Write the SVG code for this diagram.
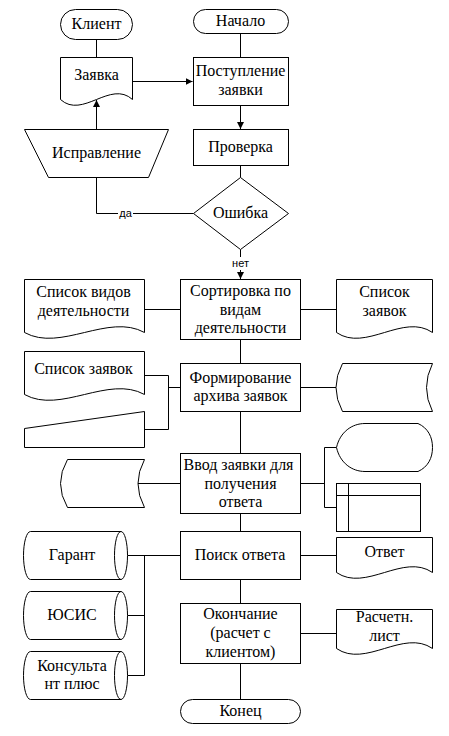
<svg xmlns="http://www.w3.org/2000/svg" width="449" height="736" viewBox="0 0 449 736">
<style>
.s{fill:#fff;stroke:#000;stroke-width:1}
.c{fill:none;stroke:#000;stroke-width:1}
text{font-size:16px;fill:#000;text-anchor:middle}
text.l{font-size:11px}
</style>
<defs>
<marker id="ah" markerUnits="userSpaceOnUse" markerWidth="8" markerHeight="8" refX="7" refY="3.5" orient="auto">
<path d="M0,0 L7,3.5 L0,7 z" fill="#000"/>
</marker>
</defs>
<rect width="449" height="736" fill="#fff"/>
<g font-family="Liberation Serif, Times New Roman, serif">
<g id="connectors">
<path class="c" d="M96.5,39.5 V57.5"/>
<path class="c" d="M240.5,33.5 V57.5"/>
<path class="c" d="M132.5,81.5 H192.5" marker-end="url(#ah)"/>
<path class="c" d="M240.5,105.5 V129" marker-end="url(#ah)"/>
<path class="c" d="M240.5,165.5 V177.5"/>
<path class="c" d="M96.5,129.5 V100" marker-end="url(#ah)"/>
<path class="c" d="M96.5,177.5 V213.5 H193.5"/>
<path class="c" d="M240.5,249.5 V279" marker-end="url(#ah)"/>
<path class="c" d="M144.5,309.5 H180.5 M300.5,309.5 H336.5"/>
<path class="c" d="M240.5,339.5 V363.5"/>
<path class="c" d="M144.5,375.5 H168.5 V429.5 H144.5 M168.5,387.5 H180.5 M300.5,387.5 H336.5"/>
<path class="c" d="M240.5,411.5 V453.5"/>
<path class="c" d="M138,483.5 H180.5 M300.5,483.5 H324.5 M336.5,447.5 H324.5 V507.5 H336.5"/>
<path class="c" d="M240.5,513.5 V531.5"/>
<path class="c" d="M127.5,555.5 H180.5 M144.5,555.5 V675.5 M127.5,615.5 H144.5 M127.5,675.5 H144.5 M300.5,555.5 H336.5"/>
<path class="c" d="M240.5,579.5 V603.5"/>
<path class="c" d="M300.5,633.5 H336.5"/>
<path class="c" d="M240.5,663.5 V699.5"/>
<rect x="118" y="207" width="15" height="13" fill="#fff"/>
<text class="l" x="125.5" y="216.5" font-family="Liberation Sans, Arial, sans-serif">да</text>
<rect x="230" y="257" width="21" height="13" fill="#fff"/>
<text class="l" x="240.5" y="266.5" font-family="Liberation Sans, Arial, sans-serif">нет</text>
</g>
<g id="klient">
<rect class="s" x="60.5" y="9.5" width="72" height="30" rx="15"/>
<text x="96.5" y="29">Клиент</text>
</g>
<g id="nachalo">
<rect class="s" x="193.5" y="9.5" width="95" height="24" rx="12"/>
<text x="240.5" y="26">Начало</text>
</g>
<g id="zayavka">
<path class="s" d="M60.5,57.5 H132.5 V99.5 C110.5,79.5 82.5,119.5 60.5,99.5 Z"/>
<text x="96.5" y="80">Заявка</text>
</g>
<g id="postuplenie">
<rect class="s" x="193.5" y="57.5" width="95" height="48"/>
<text x="240.5" y="76">Поступление</text>
<text x="240.5" y="94.5">заявки</text>
</g>
<g id="proverka">
<rect class="s" x="193.5" y="129.5" width="95" height="36"/>
<text x="240.5" y="152">Проверка</text>
</g>
<g id="ispravlenie">
<polygon class="s" points="24.5,129.5 168.5,129.5 148.5,177.5 48.5,177.5"/>
<text x="96.5" y="158">Исправление</text>
</g>
<g id="oshibka">
<polygon class="s" points="240.5,177.5 288.5,213.5 240.5,249.5 193.5,213.5"/>
<text x="240.5" y="218">Ошибка</text>
</g>
<g id="sortirovka">
<rect class="s" x="180.5" y="279.5" width="120" height="60"/>
<text x="240.5" y="296">Сортировка по</text>
<text x="240.5" y="314.5">видам</text>
<text x="240.5" y="333">деятельности</text>
</g>
<g id="spisok-vidov">
<path class="s" d="M24.5,279.5 H144.5 V332.5 C108.5,312.5 60.5,352.5 24.5,332.5 Z"/>
<text x="83.5" y="297">Список видов</text>
<text x="83.5" y="316">деятельности</text>
</g>
<g id="spisok-zayavok-1">
<path class="s" d="M336.5,279.5 H432.5 V332.5 C403.5,312.5 365.5,352.5 336.5,332.5 Z"/>
<text x="384.5" y="297">Список</text>
<text x="384.5" y="316">заявок</text>
</g>
<g id="formirovanie">
<rect class="s" x="180.5" y="363.5" width="120" height="48"/>
<text x="240.5" y="382.5">Формирование</text>
<text x="240.5" y="401">архива заявок</text>
</g>
<g id="spisok-zayavok-2">
<path class="s" d="M24.5,351.5 H144.5 V394.5 C108.5,374.5 60.5,414.5 24.5,394.5 Z"/>
<text x="83.5" y="374">Список заявок</text>
</g>
<g id="manual-input">
<polygon class="s" points="24.5,428.5 144.5,411.5 144.5,447.5 24.5,447.5"/>
</g>
<g id="stored-data-1">
<path class="s" d="M342.5,363.5 H432.5 Q420.5,387.5 432.5,411.5 H342.5 Q329.5,387.5 342.5,363.5 Z"/>
</g>
<g id="vvod">
<rect class="s" x="180.5" y="453.5" width="120" height="60"/>
<text x="238.5" y="470">Ввод заявки для</text>
<text x="240.5" y="488.5">получения</text>
<text x="240.5" y="507">ответа</text>
</g>
<g id="stored-data-2">
<path class="s" d="M67.5,459.5 H144.5 Q131.5,483.5 144.5,507.5 H67.5 Q53.5,483.5 67.5,459.5 Z"/>
</g>
<g id="display">
<path class="s" d="M336.5,447.5 C340,432 352,423.5 365,423.5 H418 C428,428 432.5,437 432.5,447.5 C432.5,458 428,467 418,471.5 H365 C352,471.5 340,463 336.5,447.5 Z"/>
</g>
<g id="internal-storage">
<rect class="s" x="336.5" y="483.5" width="84" height="48"/>
<path class="c" d="M348.5,483.5 V531.5 M336.5,495.5 H420.5"/>
</g>
<g id="poisk">
<rect class="s" x="180.5" y="531.5" width="120" height="48"/>
<text x="240" y="560">Поиск ответа</text>
</g>
<g id="garant">
<path class="s" d="M30.5,531.5 H121 A6.5,24 0 0 1 121,579.5 H30.5 A7,24 0 0 1 30.5,531.5 Z"/>
<path class="c" d="M121,531.5 A6.5,24 0 0 0 121,579.5"/>
<text x="72" y="560">Гарант</text>
</g>
<g id="yusis">
<path class="s" d="M30.5,591.5 H121 A6.5,24 0 0 1 121,639.5 H30.5 A7,24 0 0 1 30.5,591.5 Z"/>
<path class="c" d="M121,591.5 A6.5,24 0 0 0 121,639.5"/>
<text x="72" y="620">ЮСИС</text>
</g>
<g id="konsultant">
<path class="s" d="M30.5,651.5 H121 A6.5,24 0 0 1 121,699.5 H30.5 A7,24 0 0 1 30.5,651.5 Z"/>
<path class="c" d="M121,651.5 A6.5,24 0 0 0 121,699.5"/>
<text x="72" y="671">Консульта</text>
<text x="72" y="689">нт плюс</text>
</g>
<g id="otvet">
<path class="s" d="M336.5,537.5 H432.5 V572.5 C403.5,552.5 365.5,592.5 336.5,572.5 Z"/>
<text x="384.5" y="556.5">Ответ</text>
</g>
<g id="okonchanie">
<rect class="s" x="180.5" y="603.5" width="120" height="60"/>
<text x="240.5" y="619">Окончание</text>
<text x="240.5" y="638">(расчет с</text>
<text x="240.5" y="657">клиентом)</text>
</g>
<g id="raschet">
<path class="s" d="M336.5,609.5 H432.5 V648.5 C403.5,628.5 365.5,668.5 336.5,648.5 Z"/>
<text x="384.5" y="621.5">Расчетн.</text>
<text x="384.5" y="640.5">лист</text>
</g>
<g id="konec">
<rect class="s" x="180.5" y="699.5" width="120" height="24" rx="12"/>
<text x="240.5" y="715.5">Конец</text>
</g>
</g>
</svg>
